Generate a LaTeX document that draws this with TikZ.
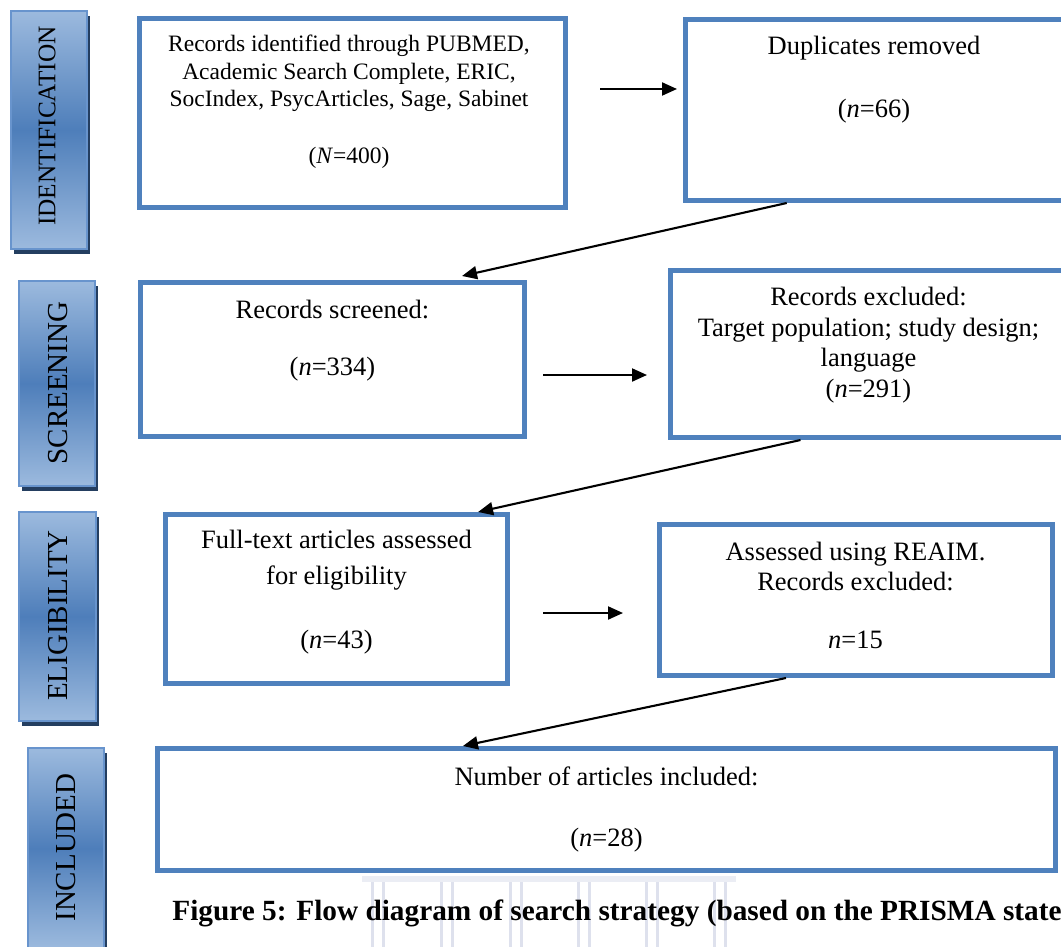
\documentclass[tikz,border=0pt]{standalone}
\usepackage{fontspec}
\setmainfont{Liberation Serif}
\usetikzlibrary{arrows.meta,calc,shadows}

\definecolor{frameblue}{RGB}{79,129,189}
\definecolor{barlight}{RGB}{156,186,222}
\definecolor{bardark}{RGB}{78,126,186}
\definecolor{barrim}{RGB}{104,148,205}
\definecolor{barshade}{RGB}{36,62,96}
\definecolor{crest}{RGB}{222,225,237}

\tikzset{
  flowbox/.style={draw=frameblue, line width=2.3pt, fill=white, inner sep=0pt},
  stagebar/.style={draw=barrim, line width=1pt, inner sep=0pt,
    top color=barlight, bottom color=barlight, middle color=bardark,
    drop shadow={shadow xshift=1.5pt, shadow yshift=-2.5pt, fill=barshade, opacity=1}},
  stagetext/.style={rotate=90, inner sep=0pt, font=\fontsize{14.5pt}{16pt}\selectfont},
  boxtext/.style={anchor=base, inner sep=0pt, font=\fontsize{13.25pt}{15.25pt}\selectfont},
  smalltext/.style={anchor=base, inner sep=0pt, font=\fontsize{11.75pt}{13.5pt}\selectfont},
  flowarrow/.style={line width=1.05pt, -{Triangle[length=7.5pt,width=6.5pt]}},
  crestline/.style={draw=crest, line width=1.2pt},
}

\begin{document}
\begin{tikzpicture}[x=0.5pt,y=-0.5pt]
\useasboundingbox (0,0) rectangle (1061,947);
\fill[white] (0,0) rectangle (1061,947);

% faint columns of the crest behind the caption
\fill[crest!60] (362,876) rectangle (736,882);
\foreach \cx in {378,447,516,584,652,720}{
  \draw[crestline] (\cx-5.5,882) -- (\cx-5.5,947);
  \draw[crestline] (\cx+5.5,882) -- (\cx+5.5,947);
}

% stage bars on the left
\node[stagebar, minimum width=38pt, minimum height=119pt] (sIdent) at (49,130) {};
\node[stagebar, minimum width=38pt, minimum height=102.5pt] (sScreen) at (57,383.5) {};
\node[stagebar, minimum width=38.5pt, minimum height=104.5pt] (sElig) at (57.5,616.5) {};
\node[stagebar, minimum width=38pt, minimum height=100.5pt] (sIncl) at (66,848.5) {};

\node[stagetext, font=\fontsize{12.65pt}{14pt}\selectfont] (lIdent) at (47,126) {IDENTIFICATION};
\node[stagetext] (lScreen) at (58,383) {SCREENING};
\node[stagetext] (lElig) at (58,615.5) {ELIGIBILITY};
\node[stagetext] (lIncl) at (66,847.5) {INCLUDED};

% flow boxes
\node[flowbox, minimum width=213.2pt, minimum height=94.7pt] (b1) at (352.5,113) {};
\node[flowbox, minimum width=191.2pt, minimum height=90.7pt] (b2) at (876.5,110) {};
\node[flowbox, minimum width=192.2pt, minimum height=77.2pt] (b3) at (332.5,359.5) {};
\node[flowbox, minimum width=199.7pt, minimum height=83.7pt] (b4) at (870,354) {};
\node[flowbox, minimum width=171.2pt, minimum height=84.7pt] (b5) at (336.5,599) {};
\node[flowbox, minimum width=196.7pt, minimum height=75.7pt] (b6) at (856,600) {};
\node[flowbox, minimum width=449.2pt, minimum height=61.2pt] (b7) at (606.5,809.5) {};

% box texts
\node[smalltext] (t1a) at (349,52) {Records identified through PUBMED,};
\node[smalltext] (t1b) at (349,80) {Academic Search Complete, ERIC,};
\node[smalltext] (t1c) at (349,107) {SocIndex, PsycArticles, Sage, Sabinet};
\node[smalltext] (t1d) at (349,163) {(\textit{N}=400)};

\node[boxtext] (t2a) at (874,55) {Duplicates removed};
\node[boxtext] (t2b) at (874,118) {(\textit{n}=66)};

\node[boxtext] (t3a) at (332.5,318) {Records screened:};
\node[boxtext] (t3b) at (332.5,375) {(\textit{n}=334)};

\node[boxtext] (t4a) at (868.5,305) {Records excluded:};
\node[boxtext] (t4b) at (868.5,336) {Target population; study design;};
\node[boxtext] (t4c) at (868.5,366) {language};
\node[boxtext] (t4d) at (868.5,397) {(\textit{n}=291)};

\node[boxtext] (t5a) at (336.5,548) {Full-text articles assessed};
\node[boxtext] (t5b) at (336.5,584) {for eligibility};
\node[boxtext] (t5c) at (336.5,648) {(\textit{n}=43)};

\node[boxtext] (t6a) at (855.5,560) {Assessed using REAIM.};
\node[boxtext] (t6b) at (855.5,590) {Records excluded:};
\node[boxtext] (t6c) at (855.5,648) {\textit{n}=15};

\node[boxtext] (t7a) at (606.5,785) {Number of articles included:};
\node[boxtext] (t7b) at (606.5,846) {(\textit{n}=28)};

% caption
\node[anchor=base west, inner sep=0pt, font=\fontsize{14.65pt}{17pt}\selectfont\bfseries] (cap) at (172,920)
  {Figure 5: Flow diagram of search strategy (based on the PRISMA state};

% connectors
\draw[flowarrow] ($(b1.east)+(32,-24)$) -- ($(b2.west)+(-6,-21)$);
\draw[flowarrow] ($(b2.south west)!0.268!(b2.south east)$) -- ($(b3.north west)!0.833!(b3.north east)+(0,-4)$);
\draw[flowarrow] ($(b3.east)+(16,15.5)$) -- ($(b4.west)+(-21,21)$);
\draw[flowarrow] ($(b4.south west)!0.328!(b4.south east)$) -- ($(b5.north west)!0.908!(b5.north east)$);
\draw[flowarrow] ($(b5.east)+(33,14)$) -- ($(b6.west)+(-34,13)$);
\draw[flowarrow] ($(b6.south west)!0.324!(b6.south east)$) -- ($(b7.north west)!0.341!(b7.north east)$);
\end{tikzpicture}
\end{document}
